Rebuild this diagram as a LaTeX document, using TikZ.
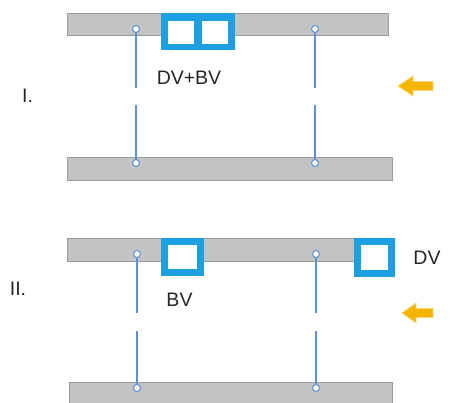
\documentclass[tikz,border=0pt]{standalone}
\usepackage{fontspec}
\setmainfont{Liberation Sans}
\definecolor{barfill}{HTML}{C3C3C3}
\definecolor{bardraw}{HTML}{9A9A9A}
\definecolor{vblue}{HTML}{1E9FE0}
\definecolor{postblue}{HTML}{5B8FD6}
\definecolor{arrfill}{HTML}{F5B400}
\definecolor{arrdraw}{HTML}{F8D77A}
\tikzset{
  bar/.style={fill=barfill,draw=bardraw,line width=0.8pt},
  valve/.style={fill=vblue},
  hole/.style={fill=white},
  post/.style={draw=postblue,line width=1.8pt},
  pin/.style={circle,draw=postblue,fill=white,line width=1pt,minimum size=7pt,inner sep=0pt},
  lbl/.style={font=\fontsize{19.5}{22}\selectfont,text=black!85,inner sep=0pt},
  flow/.style={fill=arrfill,draw=arrdraw,line width=0.8pt,line join=miter}
}
\begin{document}
\begin{tikzpicture}[x=1pt,y=-1pt]
\useasboundingbox (0,0) rectangle (452,403);
% ---------- I ----------
\draw[bar] (67,13) rectangle (388,35);
\draw[bar] (67,157) rectangle (392,180);
\fill[valve] (161,13) rectangle (235,50);
\fill[hole] (168,21) rectangle (194,44);
\fill[hole] (202,21) rectangle (228,44);
\node[pin] (a1) at (136,29) {};
\node[pin] (a2) at (136,163) {};
\node[pin] (b1) at (315,29) {};
\node[pin] (b2) at (315,163) {};
\coordinate (ag1) at (136,88);
\coordinate (ag2) at (136,105);
\coordinate (bg1) at (315,88);
\coordinate (bg2) at (315,105);
\draw[post] (a1) -- (ag1) (ag2) -- (a2);
\draw[post] (b1) -- (bg1) (bg2) -- (b2);
\node[lbl] (t1) at (189,78) {DV+BV};
\node[lbl] (n1) at (27.5,96) {I.};
\draw[flow] (398,86) -- (413,76) -- (413,81.5) -- (433,81.5) -- (433,90.5) -- (413,90.5) -- (413,96) -- cycle;
% ---------- II ----------
\draw[bar] (67,238) rectangle (392,261);
\draw[bar] (69,382) rectangle (392,406);
\fill[valve] (161,238) rectangle (204,276);
\fill[hole] (168,245) rectangle (197,269);
\fill[valve] (354,238) rectangle (395,277);
\fill[hole] (361,245) rectangle (388,270);
\node[pin] (c1) at (137,254) {};
\node[pin] (c2) at (137,388) {};
\node[pin] (d1) at (316,254) {};
\node[pin] (d2) at (316,388) {};
\coordinate (cg1) at (137,313);
\coordinate (cg2) at (137,331);
\coordinate (dg1) at (316,313);
\coordinate (dg2) at (316,331);
\draw[post] (c1) -- (cg1) (cg2) -- (c2);
\draw[post] (d1) -- (dg1) (dg2) -- (d2);
\node[lbl] (t2) at (179.5,300) {BV};
\node[lbl] (t3) at (427,258) {DV};
\node[lbl] (n2) at (18,289) {II.};
\draw[flow] (402,313) -- (416,303) -- (416,308.5) -- (433,308.5) -- (433,317.5) -- (416,317.5) -- (416,323) -- cycle;
\end{tikzpicture}
\end{document}
